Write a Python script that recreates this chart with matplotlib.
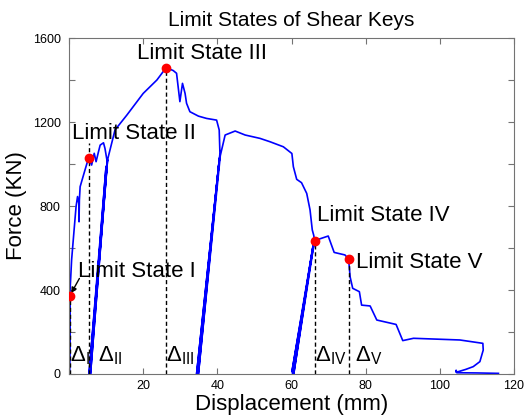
import matplotlib
matplotlib.use("Agg")
import matplotlib.pyplot as plt

plt.rcParams['font.family'] = ['Liberation Sans', 'DejaVu Sans']
plt.rcParams['mathtext.fontset'] = 'custom'
plt.rcParams['mathtext.rm'] = 'Liberation Sans'
plt.rcParams['mathtext.it'] = 'Liberation Sans:italic'

# force-displacement record (mm, KN)
disp = [0.0, 0.15, 0.05, 0.2, 0.1, 0.2,
        0.7, 1.3, 1.9, 2.3, 2.65, 2.7, 2.8, 3.0, 4.3, 5.3,
        6.1, 6.8, 7.3, 7.9, 8.4, 9.3, 9.7, 10.3,
        5.4, 10.0, 5.6, 10.4, 5.8, 10.3,
        10.6, 12.4, 15.6, 20.0, 23.7, 26.2,
        28.1, 29.0, 29.9, 30.6, 31.3, 31.7, 32.6, 34.9, 37.1, 39.8, 40.5, 40.7,
        34.4, 40.4, 34.6, 40.6, 34.9, 40.8,
        42.1, 44.8, 47.5, 51.5, 54.2, 57.8, 60.1, 60.5, 61.4, 62.7, 64.1, 65.0, 65.6, 66.0, 66.2,
        60.1, 65.9, 60.3, 66.1, 60.6, 66.2,
        69.9, 71.5, 74.4, 75.4, 75.8, 76.5, 78.3, 78.9, 81.2, 83.0, 88.2, 90.0, 92.9,
        105.4, 111.6, 111.7, 110.8, 109.0, 107.0, 104.4, 104.4, 104.6, 110.0, 115.8]
force = [0, 375, 0, 372, 0, 370,
         543, 671, 797, 845, 812, 725, 830, 892, 971, 1030,
         995, 1051, 1011, 1055, 1090, 1101, 1074, 1011,
         0, 990, 0, 1020, 0, 1011,
         1035, 1162, 1233, 1336, 1400, 1459,
         1445, 1432, 1297, 1384, 1336, 1289, 1249, 1228, 1217, 1209, 1162, 1050,
         0, 1000, 0, 1030, 0, 1040,
         1138, 1157, 1138, 1122, 1106, 1082, 1050, 987, 927, 911, 860, 781, 686, 660, 635,
         10, 620, 0, 640, 0, 635,
         657, 579, 567, 548, 463, 408, 392, 328, 324, 257, 236, 159, 170,
         162, 146, 114, 59, 35, 22, 8, 18, 6, 5, 3]

# limit states
ls_disp = [0.2, 5.3, 26.2, 66.2, 75.4]
ls_force = [370, 1030, 1459, 635, 548]
ls_names = ["Limit State I", "Limit State II", "Limit State III", "Limit State IV", "Limit State V"]
ls_text_pos = [(2.35, 487), (0.8, 1143), (18.3, 1524), (66.9, 757), (77.4, 533)]
ls_line_top = [370, 1100, 1459, 635, 548]
delta_labels = [r'$\Delta_{\mathrm{I}}$', r'$\Delta_{\mathrm{II}}$', r'$\Delta_{\mathrm{III}}$',
                r'$\Delta_{\mathrm{IV}}$', r'$\Delta_{\mathrm{V}}$']
delta_x = [0.3, 7.9, 26.1, 66.2, 77.1]

fig = plt.figure(figsize=(5.28, 4.19), dpi=100)
ax = fig.add_axes([0.1307, 0.1074, 0.8428, 0.8019])

ax.plot(disp, force, color='blue', lw=1.2)

for x, top in zip(ls_disp, ls_line_top):
    ax.plot([x, x], [0, top], color='black', ls=(0, (3, 2)), lw=1)

ax.plot(ls_disp, ls_force, 'o', color='red', ms=6, zorder=5)

for name, (tx, ty) in zip(ls_names, ls_text_pos):
    ax.text(tx, ty, name, fontsize=16, ha='left', va='center')

ax.annotate('', xy=(0.6, 385), xytext=(2.8, 455),
            arrowprops=dict(arrowstyle='-|>', color='black', lw=1, mutation_scale=8,
                            shrinkA=0, shrinkB=0))

for lab, x in zip(delta_labels, delta_x):
    ax.text(x, 62, lab, fontsize=16, ha='left', va='baseline')

ax.set_xlim(0, 120)
ax.set_ylim(0, 1600)
ax.set_xticks([0, 20, 40, 60, 80, 100, 120])
ax.set_xticklabels(['', '20', '40', '60', '80', '100', '120'])
ax.set_yticks(range(0, 1601, 200))
ax.set_yticklabels(['0', '', '400', '', '800', '', '1200', '', '1600'])
ax.tick_params(direction='in', length=4, width=0.8, top=True, right=True,
               labelsize=9, color='0.45')
ax.tick_params(axis='y', pad=6)
ax.tick_params(axis='x', pad=4)
for s in ax.spines.values():
    s.set_color('0.45')
    s.set_linewidth(0.8)

ax.set_title("Limit States of Shear Keys", fontsize=15, pad=9)
ax.set_xlabel("Displacement (mm)", fontsize=16, labelpad=2)
ax.set_ylabel("Force (KN)", fontsize=16, labelpad=4)

fig.savefig("out.png", dpi=100)
